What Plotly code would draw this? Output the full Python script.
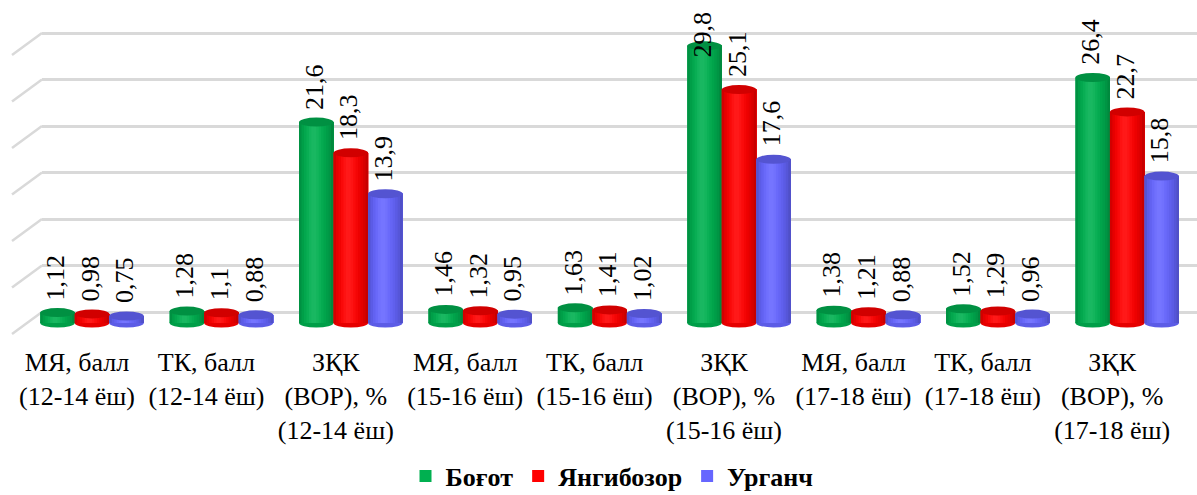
import math
import plotly.graph_objects as go

# ---------------- data ----------------
categories = [
    "МЯ, балл<br>(12-14 ёш)", "ТК, балл<br>(12-14 ёш)", "ЗҚК<br>(ВОР), %<br>(12-14 ёш)",
    "МЯ, балл<br>(15-16 ёш)", "ТК, балл<br>(15-16 ёш)", "ЗҚК<br>(ВОР), %<br>(15-16 ёш)",
    "МЯ, балл<br>(17-18 ёш)", "ТК, балл<br>(17-18 ёш)", "ЗҚК<br>(ВОР), %<br>(17-18 ёш)",
]
bogot = [1.12, 1.28, 21.6, 1.46, 1.63, 29.8, 1.38, 1.52, 26.4]
yangibozor = [0.98, 1.1, 18.3, 1.32, 1.41, 25.1, 1.21, 1.29, 22.7]
urganch = [0.75, 0.88, 13.9, 0.95, 1.02, 17.6, 0.88, 0.96, 15.8]
series_names = ["Боғот", "Янгибозор", "Урганч"]
grid_values = [0, 5, 10, 15, 20, 25, 30]

# ---------------- styles ----------------
W, H = 1197, 495
base_colors = [(0, 176, 80), (255, 0, 0), (102, 102, 255)]
FONT = "Liberation Serif"

series_values = [bogot, yangibozor, urganch]
n_cat = len(categories)
idx = list(range(n_cat))

# geometry (pixels)
cat_step = 129.4
bar_first_center = 92
label_first_center = 77
wall_left = 42
front_left = 12
depth_dy = 22
wall_zero, wall_ppu = 312, 9.3
bar_zero, bar_ppu = 323, 9.3
ell_half_px = 4.5

group_w = 0.8
w = group_w / 3.0
e_units = ell_half_px / bar_ppu


def rgb(c, f=1.0, white=0.0):
    r, g, b = [min(255, max(0, int(round(ch * f + (255 - ch * f) * white)))) for ch in c]
    return f"rgb({r},{g},{b})"


fig = go.Figure()

wall_range = [-3, 31]
wall_dom = [1 - (wall_zero - wall_range[0] * wall_ppu) / H,
            1 - (wall_zero - wall_range[1] * wall_ppu) / H]
wx0 = -(label_first_center - wall_left) / cat_step
wx1 = wx0 + (W - wall_left) / cat_step

fig.add_trace(go.Scatter(x=[idx[0]], y=[grid_values[0]], mode="markers",
                         marker=dict(opacity=0), showlegend=False, hoverinfo="skip",
                         xaxis="x", yaxis="y"))

bx0 = -bar_first_center / cat_step
bx1 = (W - bar_first_center) / cat_step
by0 = -(H - bar_zero) / bar_ppu
by1 = bar_zero / bar_ppu

N = 14
shapes = []
annotations = []
for s, (vals, name, col) in enumerate(zip(series_values, series_names, base_colors)):
    off = -group_w / 2 + s * w
    fig.add_trace(go.Bar(x=idx, y=vals, name=name, offset=off, width=w,
                         marker=dict(color=rgb(col), line=dict(width=0)),
                         xaxis="x2", yaxis="y2", hoverinfo="skip", legendgroup=name))
    for k in range(N):
        t = (k + 0.5) / N
        tt = t ** 0.82
        sn = max(0.0, math.sin(math.pi * tt))
        f = 0.70 + 0.30 * sn ** 0.55
        wh = 0.10 * sn ** 6
        fig.add_trace(go.Bar(x=idx, y=vals, offset=off + k * w / N, width=w - k * w / N,
                             marker=dict(color=rgb(col, f, wh), line=dict(width=0)),
                             xaxis="x2", yaxis="y2", hoverinfo="skip",
                             showlegend=False, legendgroup=name))
    for j, v in enumerate(vals):
        x0 = j + off
        shapes.append(dict(type="circle", xref="x2", yref="y2", layer="below",
                           x0=x0, x1=x0 + w, y0=-e_units, y1=e_units,
                           fillcolor=rgb(col, 0.9), line=dict(width=0)))
        shapes.append(dict(type="circle", xref="x2", yref="y2", layer="above",
                           x0=x0, x1=x0 + w, y0=v - e_units, y1=v + e_units,
                           fillcolor=rgb(col, 0.82), line=dict(width=0)))
        cap = by1 - (12 + 46 + 7) / bar_ppu
        annotations.append(dict(xref="x2", yref="y2", x=x0 + w / 2, y=min(v + e_units, cap),
                                text=f"{v:g}".replace(".", ","), textangle=-90,
                                showarrow=False, xanchor="center", yanchor="bottom",
                                yshift=6, xshift=-2,
                                font=dict(family=FONT, size=26, color="black")))

for g in grid_values:
    shapes.append(dict(type="line", xref="paper", yref="y", layer="below",
                       x0=wall_left / W, x1=front_left / W,
                       y0=g, y1=g - depth_dy / wall_ppu,
                       line=dict(color="#D9D9D9", width=2.5)))

fig.update_layout(
    width=W, height=H, autosize=False,
    margin=dict(l=0, r=0, t=0, b=0, pad=0, autoexpand=False),
    paper_bgcolor="white", plot_bgcolor="rgba(0,0,0,0)",
    barmode="overlay",
    showlegend=True,
    font=dict(family=FONT, color="black"),
    legend=dict(orientation="h", xref="container", yref="container",
                x=612 / W, xanchor="center", y=1 - 476 / H, yanchor="middle",
                font=dict(family=FONT, size=26, color="black", weight="bold"),
                itemclick=False, itemdoubleclick=False, traceorder="normal",
                itemwidth=30, bgcolor="rgba(0,0,0,0)"),
    xaxis=dict(domain=[wall_left / W, 1], range=[wx0, wx1], anchor="y", automargin=False,
               showgrid=False, zeroline=False, showline=False, ticks="",
               tickmode="array", tickvals=idx, ticktext=categories,
               tickfont=dict(family=FONT, size=26, color="black"),
               ticklabelstandoff=4, fixedrange=True),
    yaxis=dict(domain=wall_dom, range=wall_range, anchor="x", automargin=False,
               tickmode="array", tickvals=grid_values, showticklabels=False,
               showgrid=True, gridcolor="#D9D9D9", gridwidth=2.5,
               zeroline=False, showline=False, ticks="", fixedrange=True),
    xaxis2=dict(domain=[0, 1], range=[bx0, bx1], anchor="y2", visible=False,
                automargin=False, fixedrange=True),
    yaxis2=dict(domain=[0, 1], range=[by0, by1], anchor="x2", visible=False,
                automargin=False, fixedrange=True),
    shapes=shapes,
    annotations=annotations,
)

fig.write_html("out.html", post_script="document.body.style.margin='0';",
               config={"displayModeBar": False})
